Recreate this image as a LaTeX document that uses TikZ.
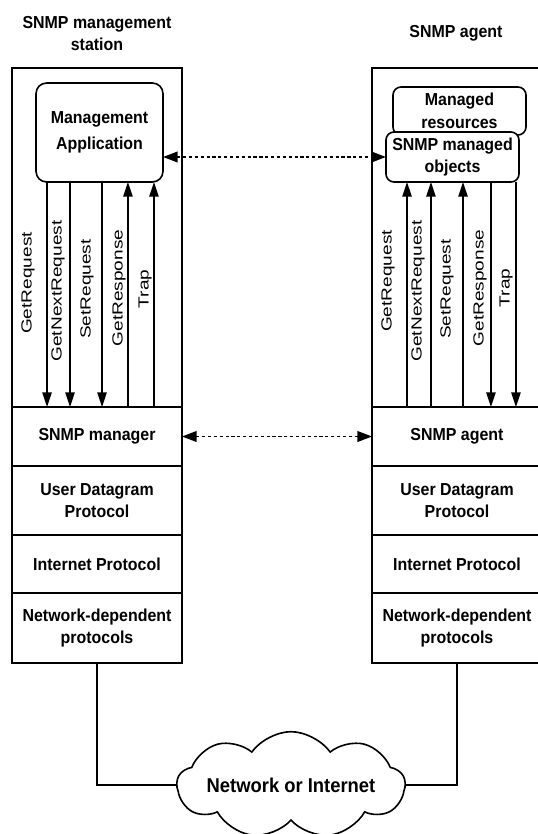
\documentclass[tikz,border=0pt]{standalone}
\usepackage{fontspec}
\setmainfont{Liberation Sans}
\newfontfamily\boxfont[FakeStretch=0.92]{Liberation Sans}
\newfontfamily\msgfont[FakeStretch=1.3]{Liberation Sans}
\usetikzlibrary{shapes.symbols,arrows.meta,positioning,calc}

\begin{document}
\begin{tikzpicture}[x=0.75pt, y=-0.75pt,
    line width=1.2pt,
    >={Triangle[length=11pt,width=7pt]},
    colbox/.style={rectangle, draw, minimum width=127.5pt, inner sep=1pt,
        outer sep=0pt, align=center,
        font=\boxfont\bfseries\fontsize{13}{17}\selectfont},
    roundbox/.style={colbox, rounded corners=6pt, fill=white},
    title/.style={align=center, font=\boxfont\bfseries\fontsize{13}{17}\selectfont},
    msg/.style={rotate=90, inner sep=0pt, font=\msgfont\fontsize{11}{13}\selectfont},
    linkline/.style={{Triangle[length=11pt,width=8pt]}-{Triangle[length=11pt,width=8pt]},
        line width=1.4pt, dash pattern=on 2.4pt off 2pt}
]
\useasboundingbox (0,0) rectangle (538,834);

\node[title] (stntitle) at (97,33.5) {SNMP management\\station};
\node[title] (agttitle) at (456,33) {SNMP agent};

\node[colbox, minimum height=44.25pt] (mgr) at (97,436.5) {SNMP manager};
\node[colbox, minimum height=51.75pt, below=0pt of mgr] (lud) {User Datagram\\Protocol};
\node[colbox, minimum height=43.5pt, below=0pt of lud] (lip) {Internet Protocol};
\node[colbox, minimum height=52.5pt, below=0pt of lip] (lnd) {Network-dependent\\protocols};
\node[colbox, minimum height=254.25pt, above=0pt of mgr] (stn) {};

\node[colbox, minimum height=44.25pt] (agt) at (457,436.5) {SNMP agent};
\node[colbox, minimum height=51.75pt, below=0pt of agt] (rud) {User Datagram\\Protocol};
\node[colbox, minimum height=43.5pt, below=0pt of rud] (rip) {Internet Protocol};
\node[colbox, minimum height=52.5pt, below=0pt of rip] (rnd) {Network-dependent\\protocols};
\node[colbox, minimum height=254.25pt, above=0pt of agt] (agtop) {};

\node[roundbox, minimum width=95.25pt, minimum height=74.25pt, rounded corners=8pt,
    font=\boxfont\bfseries\fontsize{13}{20}\selectfont] (app) at (99.5,132.5) {Management\\Application};
\node[roundbox, minimum width=99.75pt, minimum height=36pt] (res) at (459.5,111) {Managed\\resources};
\node[roundbox, minimum width=99.75pt, minimum height=37.5pt] (obj) at (452.5,157) {SNMP managed\\objects};

\foreach \f/\tip in {0.087/->, 0.268/->, 0.52/->, 0.724/<-, 0.929/<-} {
    \coordinate (a) at ($(app.south west)!\f!(app.south east)$);
    \draw[\tip] (a) -- (a |- mgr.north);
}
\foreach \f/\tip in {0.158/<-, 0.338/<-, 0.579/<-, 0.789/->, 0.977/->} {
    \coordinate (b) at ($(obj.south west)!\f!(obj.south east)$);
    \draw[\tip] (b) -- (b |- agt.north);
}

\foreach \x/\y/\t in {28/283/GetRequest, 58/291/GetNextRequest, 87/289/SetRequest,
    119/288/GetResponse, 145/289/Trap} {
    \node[msg] (lm\x) at (\x,\y) {\t};
}
\foreach \x/\y/\t in {388/281/GetRequest, 418/291/GetNextRequest, 447/289/SetRequest,
    480/288/GetResponse, 506/288/Trap} {
    \node[msg] (rm\x) at (\x,\y) {\t};
}

\draw[linkline] (app.east |- obj.west) -- (obj.west);
\draw[linkline] (mgr.east) -- (agt.west);

\node[cloud, draw, fill=white, cloud puffs=9, cloud puff arc=110, cloud ignores aspect,
    inner sep=0pt, minimum width=158pt, minimum height=80pt,
    font=\boxfont\bfseries\fontsize{15}{17}\selectfont] (net) at (291,785) {Network or Internet};
\draw (lnd.south) |- (net.west);
\draw (rnd.south) |- (net.east);
\end{tikzpicture}
\end{document}
